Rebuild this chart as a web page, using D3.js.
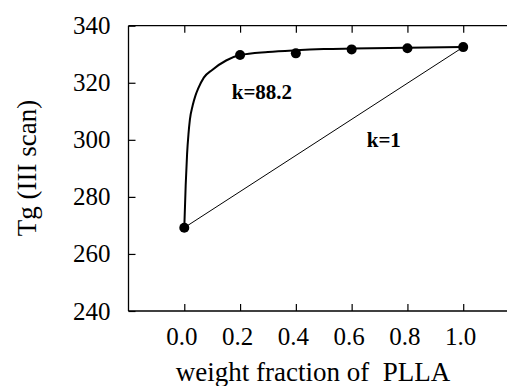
<!DOCTYPE html>
<html>
<head>
  <meta charset="utf-8">
  <title>Tg vs PLLA</title>
  <script src="https://cdn.jsdelivr.net/npm/d3@7"></script>
  <style>
    body { margin: 0; background: #fff; overflow: hidden; }
    svg text { font-family: "Liberation Serif", "Times New Roman", serif; fill: #000; }
  </style>
</head>
<body>
<script>
// measured points
const fraction = [0.0, 0.2, 0.4, 0.6, 0.8, 1.0];
const tg = [269.2, 329.7, 330.3, 331.7, 332.1, 332.5];

// k=88.2 curve
const curveW = [0, 0.005, 0.01, 0.015, 0.02, 0.03, 0.04, 0.05, 0.07, 0.1, 0.15, 0.2, 0.3, 0.4, 0.5, 0.6, 0.8, 1.0];
const curveT = [269.2, 284, 295, 302, 307, 312, 315.5, 318, 321.8, 324.5, 327.8, 329.7, 330.8, 331.4, 331.8, 332, 332.3, 332.5];

// k=1 line
const lineW = [0, 1];
const lineT = [269.2, 332.5];

const xTicks = [0.0, 0.2, 0.4, 0.6, 0.8, 1.0];
const yTicks = [240, 260, 280, 300, 320, 340];

const w = 507, h = 386;
const svg = d3.select("body").append("svg")
  .attr("width", w).attr("height", h)
  .style("display", "block");

const x = d3.scaleLinear().domain([-0.2, 1.2]).range([128.5, 519]);
const y = d3.scaleLinear().domain([240, 340]).range([311, 25.7]);

// frame: left, top and bottom (right side runs off the page)
const frame = [
  [[-0.2, 240], [-0.2, 340]],
  [[-0.2, 340], [1.2, 340]],
  [[-0.2, 240], [1.2, 240]]
];
svg.selectAll("path.frame")
  .data(frame)
  .enter()
  .append("path")
  .attr("class", "frame")
  .attr("d", d3.line().x(d => x(d[0])).y(d => y(d[1])))
  .attr("fill", "none").attr("stroke", "#000").attr("stroke-width", 1.3);

// axes
const yAxis = svg.append("g")
  .attr("transform", `translate(${x(-0.2)},0)`)
  .call(d3.axisLeft(y).tickValues(yTicks).tickSizeInner(-7).tickSizeOuter(0).tickPadding(18));
yAxis.select(".domain").remove();
yAxis.selectAll("text").style("font-size", "25px");

const xAxis = svg.append("g")
  .attr("transform", `translate(0,${y(240)})`)
  .call(d3.axisBottom(x).tickValues(xTicks).tickFormat(d3.format(".1f"))
    .tickSizeInner(-7).tickSizeOuter(0).tickPadding(16));
xAxis.select(".domain").remove();
xAxis.selectAll("text").style("font-size", "25px").attr("dx", -3);

const xTop = svg.append("g")
  .attr("transform", `translate(0,${y(340)})`)
  .call(d3.axisTop(x).tickValues(xTicks).tickSizeInner(-7).tickSizeOuter(0).tickFormat(""));
xTop.select(".domain").remove();

svg.selectAll(".tick line").attr("stroke-width", 1.2);

// titles
svg.append("text")
  .attr("x", 313).attr("y", 381)
  .attr("text-anchor", "middle")
  .style("font-size", "27px")
  .style("white-space", "pre")
  .text("weight fraction of  PLLA");

svg.append("text")
  .attr("transform", `translate(36,${168}) rotate(-90)`)
  .attr("text-anchor", "middle")
  .style("font-size", "27px")
  .text("Tg (III scan)");

// k=1 straight line
const lineData = lineW.map((d, i) => [d, lineT[i]]);
svg.append("path")
  .datum(lineData)
  .attr("d", d3.line().x(d => x(d[0])).y(d => y(d[1])))
  .attr("fill", "none").attr("stroke", "#000").attr("stroke-width", 1);

// k=88.2 curve
const curveData = curveW.map((d, i) => [d, curveT[i]]);
svg.append("path")
  .datum(curveData)
  .attr("d", d3.line().curve(d3.curveMonotoneX).x(d => x(d[0])).y(d => y(d[1])))
  .attr("fill", "none").attr("stroke", "#000").attr("stroke-width", 2);

// points
svg.selectAll("circle.pt")
  .data(fraction)
  .enter()
  .append("circle")
  .attr("class", "pt")
  .attr("cx", d => x(d))
  .attr("cy", (d, i) => y(tg[i]))
  .attr("r", 5)
  .attr("fill", "#000");

// labels
svg.append("text")
  .attr("x", x(0.17)).attr("y", y(314.2))
  .style("font-size", "21px").style("font-weight", "bold")
  .text("k=88.2");

svg.append("text")
  .attr("x", x(0.654)).attr("y", y(297.6))
  .style("font-size", "21px").style("font-weight", "bold")
  .text("k=1");
</script>
</body>
</html>
